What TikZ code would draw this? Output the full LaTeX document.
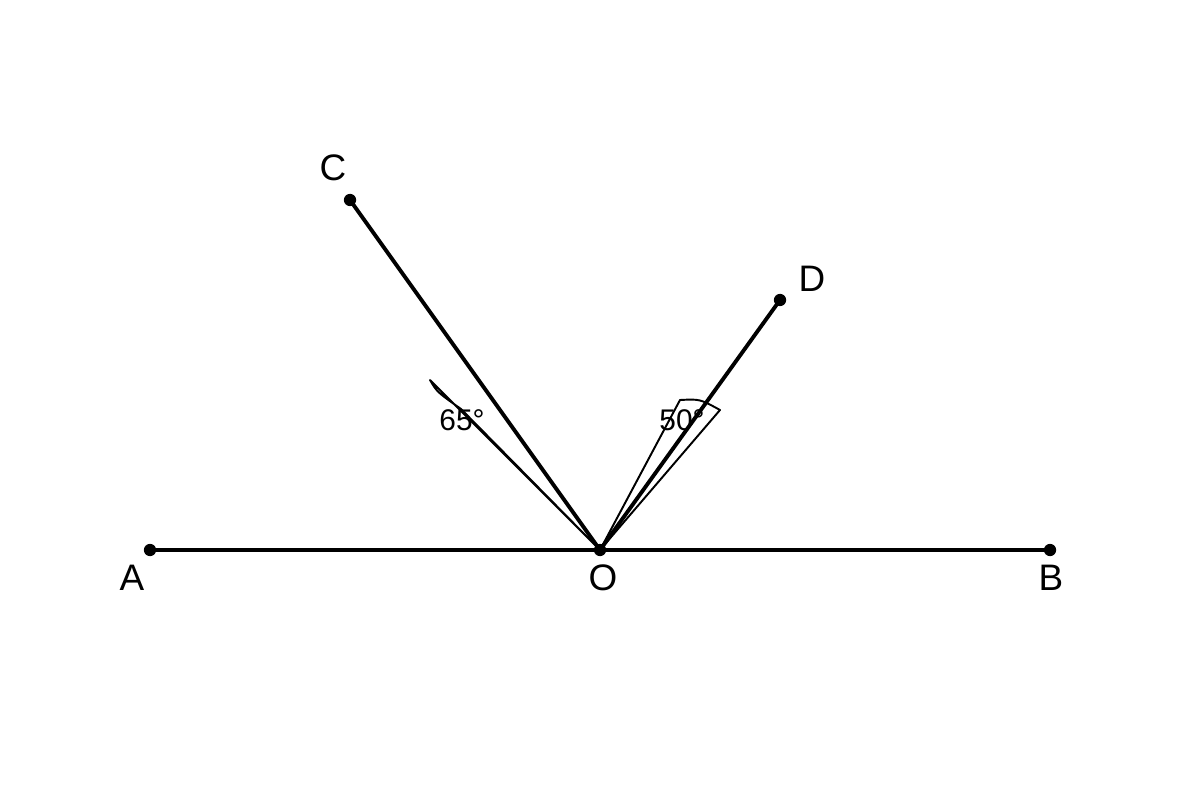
\documentclass[tikz,border=0pt]{standalone}
\usepackage{fontspec}
\setmainfont{Liberation Sans}
\begin{document}
\begin{tikzpicture}[x=0.02cm,y=-0.02cm,
  thick line/.style={line width=2.2pt},
  thin line/.style={line width=1.1pt, line join=round},
  dot/.style={circle, fill=black, inner sep=0pt, minimum size=7pt},
  lbl/.style={font=\fontsize{21}{21}\selectfont, inner sep=0pt},
  anglbl/.style={font=\fontsize{17}{17}\selectfont, inner sep=0pt}]
\useasboundingbox (0,0) rectangle (1200,800);
\coordinate (O) at (600,550);
\coordinate (A) at (150,550);
\coordinate (B) at (1050,550);
\coordinate (C) at (350,200);
\coordinate (D) at (780,300);
\coordinate (W1a) at (430,380);
\coordinate (W1b) at (461,409);
\coordinate (W2a) at (680,400);
\coordinate (W2b) at (720,410);
% wedges
\draw[thin line] (O) -- (W1a) .. controls (437,392) .. (W1b) -- cycle;
\draw[thin line] (O) -- (W2a) .. controls (700,399) .. (W2b) -- cycle;
% main lines
\draw[thick line] (A) -- (B);
\draw[thick line] (O) -- (C);
\draw[thick line] (O) -- (D);
\node[dot] (Ad) at (A) {};
\node[dot] (Bd) at (B) {};
\node[dot] (Cd) at (C) {};
\node[dot] (Dd) at (D) {};
\node[dot] (Od) at (O) {};
\node[lbl] (lA) at (132,578) {A};
\node[lbl] (lB) at (1051,578) {B};
\node[lbl] (lO) at (603,578) {O};
\node[lbl] (lC) at (333,168) {C};
\node[lbl] (lD) at (812,279) {D};
\node[anglbl] (a65) at (462,420) {65°};
\node[anglbl] (a50) at (682,420) {50°};
\end{tikzpicture}
\end{document}
